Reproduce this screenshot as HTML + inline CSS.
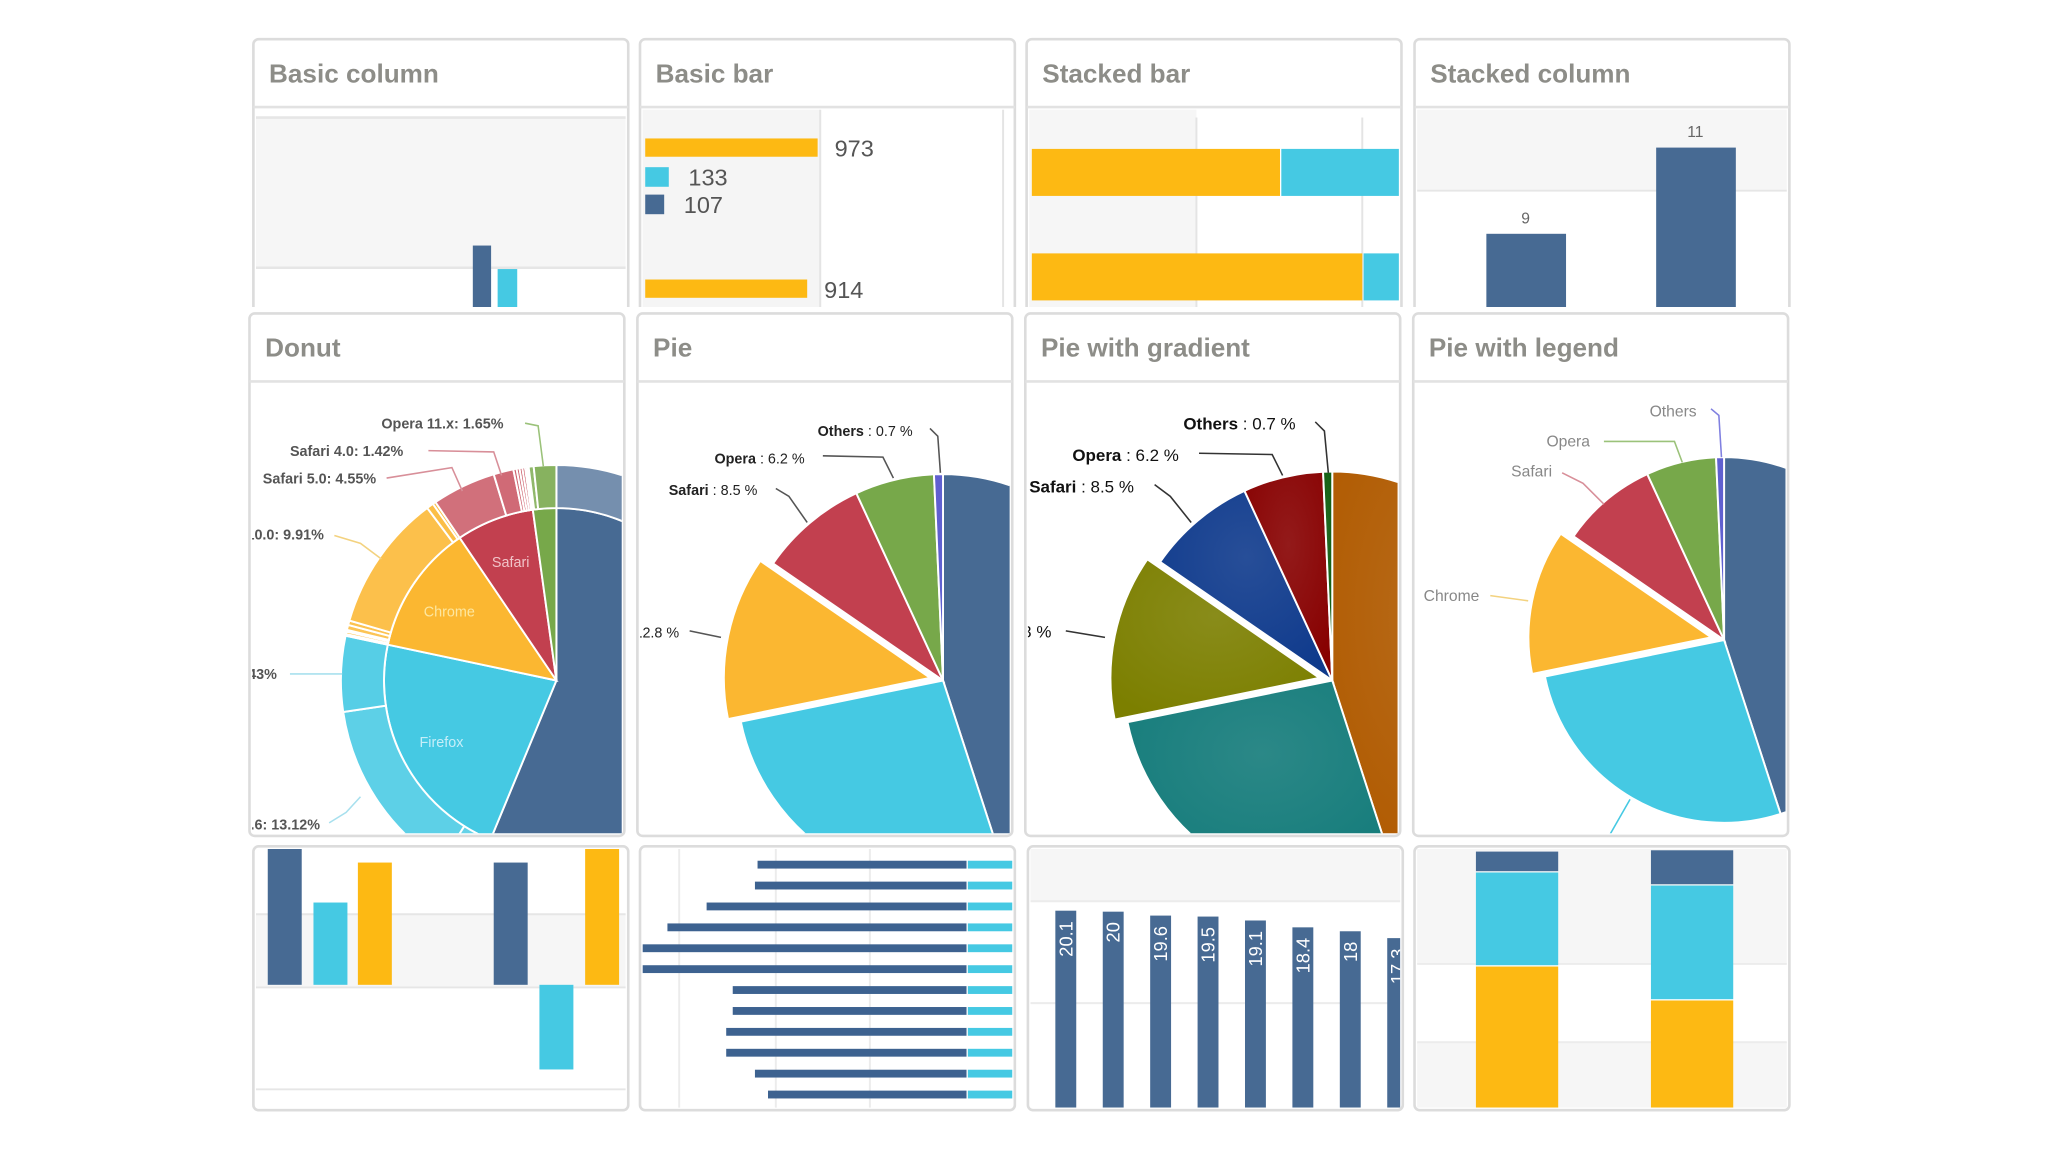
<!DOCTYPE html>
<html><head><meta charset="utf-8"><title>Chart gallery</title>
<style>
html,body{margin:0;padding:0;background:#fff;}
svg{display:block;font-family:"Liberation Sans",sans-serif;}
</style></head>
<body>
<svg id="root" width="2048" height="1152" viewBox="0 0 1568 882" xmlns="http://www.w3.org/2000/svg">
<defs id="defs"><clipPath id="row1clip"><rect x="0" y="0" width="1568" height="235"/></clipPath></defs>
<g id="row1" clip-path="url(#row1clip)"></g>
</svg>
<script>
// ---- data ----
var colBasicCats = ['A','B'];
var colBasicDark = [46];
var colBasicCyan = [28];
var basicBarVals = [973, 133, 107, 914];
var stackBarYellow = [190, 253];
var stackBarCyan = [120, 60];
var stackColVals = [9, 11];
var donutBrowsers = ['MSIE','Firefox','Chrome','Safari','Opera'];
var donutValues = [55.11, 21.63, 11.94, 7.15, 2.14];
var donutMsie = [10.85, 7.35, 33.06, 2.81];
var donutFirefox = [0.20, 0.83, 1.58, 13.12, 5.43];
var donutChrome = [0.12, 0.19, 0.12, 0.36, 0.32, 9.91, 0.50, 0.22];
var donutSafari = [4.55, 1.42, 0.23, 0.21, 0.20, 0.19, 0.14];
var donutOpera = [0.12, 0.37, 1.65];
var pieNames = ['Firefox','IE','Chrome','Safari','Opera','Others'];
var pieValues = [45.0, 26.8, 12.8, 8.5, 6.2, 0.7];
var negColVals = [58, 35, 52, 52, -36, 58];
var hBarVals = [160, 162, 199, 229, 248, 248, 179, 179, 184, 184, 162, 152];
var hBarCyan = [36, 36, 36, 36, 36, 36, 36, 36, 36, 36, 36, 36];
var tempVals = [20.1, 20, 19.6, 19.5, 19.1, 18.4, 18, 17.3];
var stackColDark = [16, 27];
var stackColCyan = [72, 88];
var stackColYellow = [108, 82];

var NS = 'http://www.w3.org/2000/svg';
var root = document.getElementById('root');
var row1 = document.getElementById('row1');
var defs = document.getElementById('defs');
function mk(tag, attrs, parent){
  var e = document.createElementNS(NS, tag);
  for (var k in attrs) e.setAttribute(k, attrs[k]);
  (parent || root).appendChild(e);
  return e;
}
var BLUE='#476a93', CYAN='#45c9e3', YEL='#fdb913', GREEN='#77a84a', RED='#c2404f', PURP='#6060d0', ORG='#fbb731';

var clipN = 0;
function panel(x, y, w, h, title, name, parent){
  var g = mk('g', {}, parent || root);
  
  
  var frame = mk('rect', {x:x, y:y, width:w, height:h, rx:4, fill:'#fff', stroke:'#dcdcdc', 'stroke-width':2}, g);
  
  
  var cp = mk('clipPath', {id:'cp' + clipN}, defs);
  mk('rect', {x:x+2, y:y+2, width:w-4, height:h-4}, cp);
  var inner = mk('g', {'clip-path':'url(#cp' + clipN + ')'}, g);
  clipN++;
  if (title){
    var t = mk('text', {x:x+12, y:y+33, 'font-size':20, 'font-weight':'bold', fill:'#8d8d88'}, g);
    t.textContent = title;
    
    
    var hl = mk('line', {x1:x, x2:x+w, y1:y+52, y2:y+52, stroke:'#e2e2e2', 'stroke-width':2}, g);
    
    
  }
  return inner;
}
function rect(g, x, y, w, h, fill, name){
  var r = mk('rect', {x:x, y:y, width:w, height:h, fill:fill}, g);
  
  
  return r;
}
function txt(g, x, y, s, size, fill, anchor, name, weight){
  var t = mk('text', {x:x, y:y, 'font-size':size, fill:fill, 'text-anchor':anchor||'start', 'font-weight':weight||'normal'}, g);
  t.textContent = s;
  
  
  return t;
}
function pt(cx, cy, r, a){ return [cx + r*Math.sin(a), cy - r*Math.cos(a)]; }
function arcPath(cx, cy, r0, r1, a0, a1){
  var large = (a1 - a0) > Math.PI ? 1 : 0;
  var p1 = pt(cx,cy,r1,a0), p2 = pt(cx,cy,r1,a1);
  if (r0 <= 0){
    return 'M'+cx+','+cy+' L'+p1[0]+','+p1[1]+' A'+r1+','+r1+' 0 '+large+' 1 '+p2[0]+','+p2[1]+' Z';
  }
  var p3 = pt(cx,cy,r0,a1), p4 = pt(cx,cy,r0,a0);
  return 'M'+p1[0]+','+p1[1]+' A'+r1+','+r1+' 0 '+large+' 1 '+p2[0]+','+p2[1]+' L'+p3[0]+','+p3[1]+' A'+r0+','+r0+' 0 '+large+' 0 '+p4[0]+','+p4[1]+' Z';
}
function lighten(hex, f){
  var n = parseInt(hex.slice(1),16), r=n>>16, g=(n>>8)&255, b=n&255;
  r = Math.round(r + (255-r)*f); g = Math.round(g + (255-g)*f); b = Math.round(b + (255-b)*f);
  return 'rgb('+r+','+g+','+b+')';
}
function line(g, pts, color, name){
  var l = mk('polyline', {points: pts, fill:'none', stroke:color, 'stroke-width':1.2}, g);
  
  
}

// ===== Row 1 =====
(function(){
  var g = panel(194, 30, 287, 220, 'Basic column', 'basic-column-panel', row1);
  mk('rect', {x:194, y:90, width:287, height:115, fill:'#f6f6f6'}, g);
  mk('line', {x1:194, x2:481, y1:90, y2:90, stroke:'#e6e6e6', 'stroke-width':2}, g);
  mk('line', {x1:194, x2:481, y1:205, y2:205, stroke:'#e6e6e6', 'stroke-width':2}, g);
  var base = 234, k = 1;
  colBasicDark.forEach(function(v,i){ rect(g, 362, base - v*k, 14, v*k + 20, BLUE, 'column-dark-' + i); });
  colBasicCyan.forEach(function(v,i){ rect(g, 381, base - v*k, 15, v*k + 20, CYAN, 'column-cyan-' + i); });
})();
(function(){
  var g = panel(490, 30, 287, 220, 'Basic bar', 'basic-bar-panel', row1);
  mk('rect', {x:490, y:84, width:138, height:170, fill:'#f5f5f5'}, g);
  mk('line', {x1:628, x2:628, y1:84, y2:250, stroke:'#e4e4e4', 'stroke-width':1.5}, g);
  mk('line', {x1:768, x2:768, y1:84, y2:250, stroke:'#e4e4e4', 'stroke-width':1.5}, g);
  var x0 = 494, k = 132/973;
  var ys = [106, 128, 149, 214], hs = [14, 15, 15, 14], cols = [YEL, CYAN, BLUE, YEL];
  basicBarVals.forEach(function(v,i){
    var w = v*k; if (w < 14) w = v/133*16;
    rect(g, x0, ys[i], w, hs[i], cols[i], 'basic-bar-' + i);
    txt(g, x0 + w + (i===0||i===3 ? 13 : 15), ys[i] + 14, String(v), 18, '#555', 'start', 'basic-bar-label-' + i);
  });
})();
(function(){
  var g = panel(786, 30, 287, 220, 'Stacked bar', 'stacked-bar-panel', row1);
  mk('rect', {x:786, y:84, width:130, height:170, fill:'#f6f6f6'}, g);
  mk('line', {x1:916, x2:916, y1:90, y2:250, stroke:'#e4e4e4', 'stroke-width':1.5}, g);
  mk('line', {x1:1043, x2:1043, y1:90, y2:250, stroke:'#e4e4e4', 'stroke-width':1.5}, g);
  var ys = [114, 194];
  stackBarYellow.forEach(function(v,i){
    rect(g, 790, ys[i], v, 36, YEL, 'stacked-bar-yellow-' + i);
    rect(g, 790 + v + 1, ys[i], stackBarCyan[i], 36, CYAN, 'stacked-bar-cyan-' + i);
  });
})();
(function(){
  var g = panel(1083, 30, 287, 220, 'Stacked column', 'stacked-column-panel', row1);
  mk('rect', {x:1083, y:84, width:287, height:62, fill:'#f6f6f6'}, g);
  mk('line', {x1:1083, x2:1370, y1:146, y2:146, stroke:'#e6e6e6', 'stroke-width':1.5}, g);
  var xs = [1138, 1268], base = 476, k = 33;
  stackColVals.forEach(function(v,i){
    var top = base - v*k;
    rect(g, xs[i], top, 61, 250 - top, BLUE, 'stacked-column-bar-' + i);
    txt(g, xs[i] + 30, top - 8, String(v), 12, '#666', 'middle', 'stacked-column-label-' + i);
  });
})();

// ===== Row 2 =====
(function(){
  var g = panel(191, 240, 287, 400, 'Donut', 'donut-panel');
  var cx = 426, cy = 521, rIn = 132, rOut = 165;
  var cols = [BLUE, CYAN, ORG, RED, GREEN];
  var vers = [donutMsie, donutFirefox, donutChrome, donutSafari, donutOpera];
  var total = donutValues.reduce(function(a,b){return a+b;},0);
  var a = 0;
  donutValues.forEach(function(v,i){
    var span = v/total*2*Math.PI;
    var p = mk('path', {d: arcPath(cx,cy,0,rIn,a,a+span), fill:cols[i], stroke:'#fff', 'stroke-width':1.5}, g);
    
    
    var vs = vers[i], vt = vs.reduce(function(x,y){return x+y;},0), b = a;
    vs.forEach(function(vv,j){
      var s = vv/vt*span;
      var q = mk('path', {d: arcPath(cx,cy,rIn,rOut,b,b+s), fill:lighten(cols[i], 0.25 - j/vs.length*0.2), stroke:'#fff', 'stroke-width':1.5}, g);
      
      
      b += s;
    });
    a += span;
  });
  txt(g, 344, 472, 'Chrome', 11, '#fde7a0', 'middle', 'donut-label-chrome');
  txt(g, 391, 434, 'Safari', 11, '#f1c4c9', 'middle', 'donut-label-safari');
  txt(g, 338, 572, 'Firefox', 11, '#c6eef8', 'middle', 'donut-label-firefox');
  txt(g, 292, 328, 'Opera 11.x:  1.65%', 11, '#555', 'start', 'donut-label-opera-11', 'bold');
  line(g, '402,324 412,326 416,357', '#9bc27a', 'donut-leader-opera');
  txt(g, 222, 349, 'Safari 4.0:  1.42%', 11, '#555', 'start', 'donut-label-safari-4', 'bold');
  line(g, '328,345 378,346 384,364', '#d88f99', 'donut-leader-safari-4');
  txt(g, 288, 370, 'Safari 5.0:  4.55%', 11, '#555', 'end', 'donut-label-safari-5', 'bold');
  line(g, '296,366 346,358 354,376', '#d88f99', 'donut-leader-safari-5');
  txt(g, 248, 413, 'Chrome 10.0:  9.91%', 11, '#555', 'end', 'donut-label-chrome-10', 'bold');
  line(g, '256,410 276,416 292,428', '#f3d27f', 'donut-leader-chrome-10');
  txt(g, 212, 520, 'Firefox 4.0:  5.43%', 11, '#555', 'end', 'donut-label-firefox-4', 'bold');
  line(g, '222,516 262,516', '#a8e0ee', 'donut-leader-firefox-4');
  txt(g, 245, 635, 'Firefox 3.6:  13.12%', 11, '#555', 'end', 'donut-label-firefox-36', 'bold');
  line(g, '252,630 265,622 276,610', '#a8e0ee', 'donut-leader-firefox-36');
})();

function drawPie(g, cx, cy, r, cols, prefix, sliceIdx, fillFn){
  var total = pieValues.reduce(function(a,b){return a+b;},0), a = 0;
  pieValues.forEach(function(v,i){
    var span = v/total*2*Math.PI, dx = 0, dy = 0;
    if (i === sliceIdx){ var m = a + span/2; dx = 10*Math.sin(m); dy = -10*Math.cos(m); }
    var p = mk('path', {d: arcPath(cx+dx,cy+dy,0,r,a,a+span), fill: fillFn ? fillFn(i) : cols[i], stroke:'#fff', 'stroke-width':1.5}, g);
    
    
    a += span;
  });
}
function pieLabel(g, x, y, name, val, size, color, anchor, id){
  var t = mk('text', {x:x, y:y, 'font-size':size, fill:color, 'text-anchor':anchor}, g);
  var b = mk('tspan', {'font-weight':'bold'}, t); b.textContent = name;
  var s = mk('tspan', {}, t); s.textContent = ' : ' + val + ' %';
  
  
}
(function(){
  var g = panel(488, 240, 287, 400, 'Pie', 'pie-panel');
  drawPie(g, 722, 521, 158, [BLUE, CYAN, ORG, RED, GREEN, PURP], 'pie', 2);
  pieLabel(g, 626, 334, 'Others', '0.7', 11, '#222', 'start', 'pie-label-others');
  line(g, '712,328 718,334 720,362', '#555', 'pie-leader-others');
  pieLabel(g, 547, 355, 'Opera', '6.2', 11, '#222', 'start', 'pie-label-opera');
  line(g, '630,349 676,350 684,366', '#555', 'pie-leader-opera');
  pieLabel(g, 512, 379, 'Safari', '8.5', 11, '#222', 'start', 'pie-label-safari');
  line(g, '594,374 604,380 618,400', '#555', 'pie-leader-safari');
  pieLabel(g, 520, 488, 'Chrome', '12.8', 11, '#222', 'end', 'pie-label-chrome');
  line(g, '528,483 552,488', '#555', 'pie-leader-chrome');
})();
(function(){
  var g = panel(785, 240, 287, 400, 'Pie with gradient', 'pie-gradient-panel');
  var base = ['#b05a00', '#137b7a', '#7c7f00', '#0f3a8c', '#870000', '#0b5a0b'];
  base.forEach(function(c,i){
    var rg = mk('radialGradient', {id:'pg'+i, cx:'50%', cy:'35%', r:'70%'}, defs);
    mk('stop', {offset:'0%', 'stop-color':lighten(c,0.1)}, rg);
    mk('stop', {offset:'100%', 'stop-color':c}, rg);
  });
  drawPie(g, 1020, 521, 160, base, 'pie-gradient', 2, function(i){ return 'url(#pg'+i+')'; });
  pieLabel(g, 906, 329, 'Others', '0.7', 13, '#111', 'start', 'pie-gradient-label-others');
  line(g, '1007,323 1014,330 1017,362', '#333', 'pie-gradient-leader-others');
  pieLabel(g, 821, 353, 'Opera', '6.2', 13, '#111', 'start', 'pie-gradient-label-opera');
  line(g, '918,347 974,348 982,364', '#333', 'pie-gradient-leader-opera');
  pieLabel(g, 788, 377, 'Safari', '8.5', 13, '#111', 'start', 'pie-gradient-label-safari');
  line(g, '884,371 896,380 912,400', '#333', 'pie-gradient-leader-safari');
  pieLabel(g, 805, 488, 'Chrome', '12.8', 13, '#111', 'end', 'pie-gradient-label-chrome');
  line(g, '816,483 846,488', '#333', 'pie-gradient-leader-chrome');
})();
(function(){
  var g = panel(1082, 240, 287, 400, 'Pie with legend', 'pie-legend-panel');
  drawPie(g, 1320, 490, 140, [BLUE, CYAN, ORG, RED, GREEN, PURP], 'pie-legend', 2);
  txt(g, 1263, 319, 'Others', 12, '#888', 'start', 'pie-legend-label-others');
  line(g, '1310,313 1316,318 1318,350', '#8080e0', 'pie-legend-leader-others');
  txt(g, 1184, 342, 'Opera', 12, '#888', 'start', 'pie-legend-label-opera');
  line(g, '1228,338 1282,338 1288,354', '#9bc27a', 'pie-legend-leader-opera');
  txt(g, 1157, 365, 'Safari', 12, '#888', 'start', 'pie-legend-label-safari');
  line(g, '1196,362 1212,370 1228,386', '#d88f99', 'pie-legend-leader-safari');
  txt(g, 1090, 460, 'Chrome', 12, '#888', 'start', 'pie-legend-label-chrome');
  line(g, '1141,456 1170,460', '#f3d27f', 'pie-legend-leader-chrome');
  line(g, '1232,640 1248,612', '#45c9e3', 'pie-legend-leader-ie');
})();

// ===== Row 3 =====
(function(){
  var g = panel(194, 648, 287, 202, null, 'negative-column-panel');
  mk('rect', {x:194, y:700, width:287, height:56, fill:'#f6f6f6'}, g);
  mk('line', {x1:194, x2:481, y1:700, y2:700, stroke:'#e6e6e6', 'stroke-width':1.5}, g);
  mk('line', {x1:194, x2:481, y1:756, y2:756, stroke:'#e6e6e6', 'stroke-width':1.5}, g);
  mk('line', {x1:194, x2:481, y1:834, y2:834, stroke:'#e6e6e6', 'stroke-width':1.5}, g);
  var xs = [205, 240, 274, 378, 413, 448], cols = [BLUE, CYAN, YEL, BLUE, CYAN, YEL];
  var zero = 754, k = 1.8;
  negColVals.forEach(function(v,i){
    var h = Math.abs(v)*k;
    rect(g, xs[i], v >= 0 ? zero - h : zero, 26, h, cols[i], 'negative-column-bar-' + i);
  });
})();
(function(){
  var g = panel(490, 648, 287, 202, null, 'horizontal-bar-panel');
  [520, 594, 666].forEach(function(x){
    mk('line', {x1:x, x2:x, y1:650, y2:850, stroke:'#ececec', 'stroke-width':1.5}, g);
  });
  var right = 740, y0 = 662, step = 16, k = 1;
  hBarVals.forEach(function(v,i){
    var y = y0 + i*step;
    rect(g, right - v*k, y - 3, v*k, 6, '#3d6290', 'horizontal-bar-dark-' + i);
    rect(g, right + 1, y - 3, hBarCyan[i], 6, CYAN, 'horizontal-bar-cyan-' + i);
  });
})();
(function(){
  var g = panel(787, 648, 287, 202, null, 'rotated-label-column-panel');
  mk('rect', {x:787, y:650, width:287, height:40, fill:'#f6f6f6'}, g);
  mk('line', {x1:787, x2:1074, y1:690, y2:690, stroke:'#ececec', 'stroke-width':1.5}, g);
  mk('line', {x1:787, x2:1074, y1:768, y2:768, stroke:'#ececec', 'stroke-width':1.5}, g);
  var base = 848, k = 7.5, x0 = 808, step = 36.3;
  tempVals.forEach(function(v,i){
    var x = x0 + i*step, top = base - v*k;
    rect(g, x, top, 16, v*k, BLUE, 'temp-column-' + i);
    var t = mk('text', {x:x+13, y:top+8, 'font-size':14, fill:'#fff', 'text-anchor':'end', transform:'rotate(-90 '+(x+13)+' '+(top+8)+')'}, g);
    t.textContent = String(v);
    
    
  });
})();
(function(){
  var g = panel(1083, 648, 287, 202, null, 'stacked-column-bottom-panel');
  mk('rect', {x:1083, y:650, width:287, height:88, fill:'#f6f6f6'}, g);
  mk('rect', {x:1083, y:798, width:287, height:52, fill:'#f6f6f6'}, g);
  mk('line', {x1:1083, x2:1370, y1:738, y2:738, stroke:'#ececec', 'stroke-width':1.5}, g);
  mk('line', {x1:1083, x2:1370, y1:798, y2:798, stroke:'#ececec', 'stroke-width':1.5}, g);
  var xs = [1130, 1264], base = 848;
  stackColYellow.forEach(function(v,i){
    var y = base - v;
    rect(g, xs[i], y, 63, v, YEL, 'stacked-bottom-yellow-' + i);
    var c = stackColCyan[i];
    rect(g, xs[i], y - c, 63, c - 1, CYAN, 'stacked-bottom-cyan-' + i);
    var d = stackColDark[i];
    rect(g, xs[i], y - c - d, 63, d - 1, BLUE, 'stacked-bottom-dark-' + i);
  });
})();
</script>
</body></html>
